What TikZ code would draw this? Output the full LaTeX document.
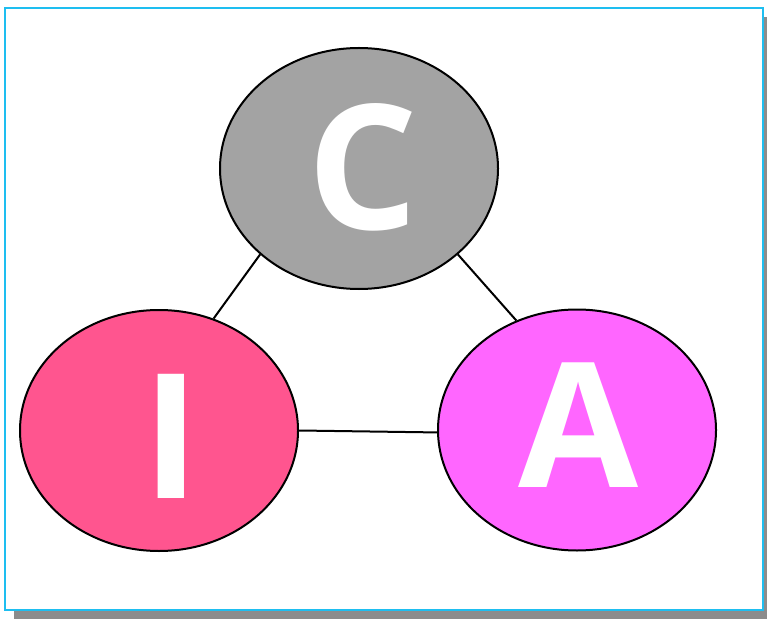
\documentclass[tikz,border=0pt]{standalone}
\usepackage{fontspec}
\setmainfont{Open Sans}
\usetikzlibrary{shapes.geometric}
\definecolor{frameblue}{RGB}{30,190,240}
\definecolor{shadowgray}{RGB}{140,140,140}
\definecolor{cgray}{RGB}{163,163,163}
\definecolor{ipink}{RGB}{255,85,143}
\definecolor{amag}{RGB}{255,102,255}
\tikzset{
  bubble/.style={ellipse, draw=black, line width=2pt, minimum width=278pt, minimum height=241pt, inner sep=0pt},
  letter/.style={text=white, inner sep=0pt, font=\fontsize{174}{174}\bfseries\selectfont},
  link/.style={draw=black, line width=2pt}
}
\begin{document}
\begin{tikzpicture}[x=1pt,y=1pt]
\useasboundingbox (0,0) rectangle (767,619);
\fill[shadowgray] (14,0) rectangle (767,602);
\draw[frameblue, fill=white, line width=2pt] (5,9) rectangle (763,611);
\node[bubble, fill=cgray] (C) at (359,450.5) {};
\node[bubble, fill=ipink] (I) at (159,188.5) {};
\node[bubble, fill=amag] (A) at (577,189) {};
\node[letter] (Ct) at (363,452) {C};
\node[letter] (It) at (171.5,182.5) {I};
\node[letter] (At) at (579,194) {A};
\draw[link] (C.221.4) -- (I.64.4);
\draw[link] (C.319.2) -- (A.119.1);
\draw[link] (I.0) -- (A.181);
\end{tikzpicture}
\end{document}
